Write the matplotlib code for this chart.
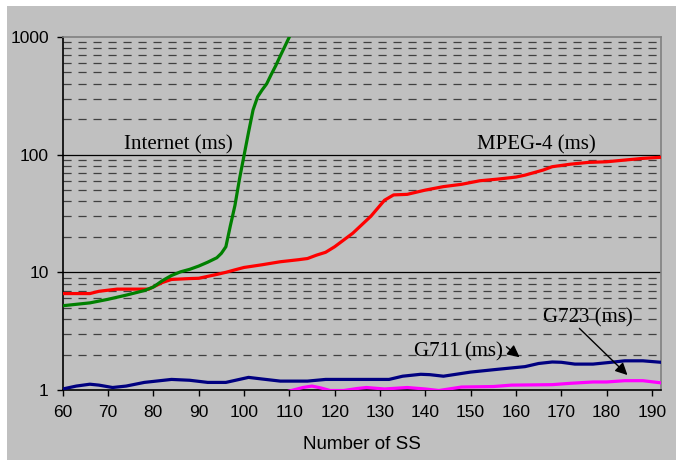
import matplotlib
matplotlib.use("Agg")
import matplotlib.pyplot as plt
from matplotlib.patches import Rectangle
from matplotlib.ticker import FixedLocator, NullFormatter, NullLocator

# Internet (ms)
internet_x = [60, 64, 66, 70, 74, 78, 80, 82, 84, 86, 88, 90, 92, 94, 95, 96,
              97, 98, 99, 100, 101, 102, 103, 104, 105, 106, 107, 108, 109, 110]
internet_y = [5.2, 5.4, 5.5, 5.9, 6.4, 7.0, 7.5, 8.5, 9.4, 10.1, 10.6, 11.3, 12.2,
              13.3, 14.5, 16.5, 25, 37, 62, 98, 155, 240, 310, 355, 400, 480,
              570, 690, 830, 1000]

# MPEG-4 (ms)
mpeg_x = [60, 62, 66, 68, 72, 76, 79, 82, 84, 88, 90, 94, 96, 98, 100, 104, 108,
          112, 114, 116, 118, 120, 124, 128, 131, 133, 136, 140, 144, 148, 152,
          156, 160, 162, 166, 168, 172, 176, 180, 184, 188, 192]
mpeg_y = [6.6, 6.6, 6.6, 6.9, 7.2, 7.2, 7.2, 8.2, 8.7, 8.85, 8.9, 9.6, 10.0, 10.5,
          11.0, 11.6, 12.3, 12.8, 13.1, 14.0, 14.8, 16.5, 21.5, 30, 41, 45.5, 46,
          50, 53.5, 56, 60, 62, 64.5, 67, 74, 79, 83, 86, 87, 90, 93, 95]

# G711 (ms)
g711_x = [60, 63, 66, 68, 71, 74, 78, 84, 88, 92, 96, 101, 104, 108, 114, 118,
          124, 132, 135, 139, 141, 144, 150, 156, 162, 165, 168, 170, 173, 177,
          181, 184, 188, 192]
g711_y = [1.02, 1.08, 1.12, 1.10, 1.05, 1.08, 1.16, 1.23, 1.21, 1.16, 1.16, 1.28,
          1.24, 1.19, 1.19, 1.23, 1.23, 1.23, 1.31, 1.36, 1.35, 1.31, 1.42, 1.50,
          1.58, 1.68, 1.73, 1.72, 1.66, 1.66, 1.72, 1.77, 1.77, 1.72]

# G723 (ms)
g723_x = [110, 113, 115, 117, 119, 122, 125, 127, 131, 136, 140, 143, 148, 155,
          159, 168, 172, 177, 180, 184, 188, 192]
g723_y = [0.98, 1.05, 1.08, 1.04, 0.99, 0.99, 1.03, 1.05, 1.02, 1.05, 1.02, 0.99,
          1.06, 1.07, 1.10, 1.11, 1.14, 1.17, 1.17, 1.20, 1.20, 1.15]

x_ticks = list(range(60, 191, 10))
y_ticks = [1, 10, 100, 1000]
y_minor = [m * d for d in (1, 10, 100) for m in range(2, 10)]

GRAY = "#c0c0c0"
SERIF = ["Liberation Serif", "DejaVu Serif"]
SANS = ["Liberation Sans", "DejaVu Sans"]

fig = plt.figure(figsize=(6.76, 4.66), dpi=100, facecolor="white")
bg = Rectangle((7 / 676, 6 / 466), 669 / 676, 454 / 466, transform=fig.transFigure,
               facecolor=GRAY, edgecolor="none", zorder=-10)
fig.add_artist(bg)
ax = fig.add_axes([62.7 / 676, 1 - 390 / 466, (661 - 62.7) / 676, (390 - 37) / 466])
ax.set_zorder(1)
ax.set_facecolor(GRAY)

ax.set_yscale("log")
ax.set_xlim(60, 192)
ax.set_ylim(1, 1000)

# grid: solid at decades, dashed in between
for v in y_ticks[1:3]:
    ax.axhline(v, color="black", lw=0.9, zorder=1)
for v in y_minor:
    ax.axhline(v, color="#404040", lw=0.9, ls=(0, (6.5, 5.5)), zorder=1)

ax.plot(g723_x, g723_y, color="#ff00ff", lw=2.3, zorder=3)
ax.plot(g711_x, g711_y, color="#000080", lw=2.3, zorder=3)
ax.plot(mpeg_x, mpeg_y, color="#ff0000", lw=2.3, zorder=3)
ax.plot(internet_x, internet_y, color="#008000", lw=2.3, zorder=3)

ax.yaxis.set_major_locator(FixedLocator(y_ticks))
ax.yaxis.set_minor_locator(NullLocator())
ax.yaxis.set_minor_formatter(NullFormatter())
ax.set_yticklabels([str(v) for v in y_ticks], family=SANS, fontsize=12.5)
ax.set_xticks(x_ticks)
ax.set_xticklabels([str(v) for v in x_ticks], family=SANS, fontsize=12.5)
ax.tick_params(axis="y", direction="out", length=4, width=1, pad=6)
ax.tick_params(axis="x", direction="out", length=4, width=1, pad=7)

for s in ("left", "bottom"):
    ax.spines[s].set_color("black")
    ax.spines[s].set_linewidth(1.2)
for s in ("top", "right"):
    ax.spines[s].set_color("#808080")
    ax.spines[s].set_linewidth(1.2)

ax.set_xlabel("Number of SS", family=SANS, fontsize=13.5, labelpad=11)

ax.text(73.5, 120, "Internet (ms)", family=SERIF, fontsize=15, ha="left", va="center", zorder=4)
ax.text(151.5, 120, "MPEG-4 (ms)", family=SERIF, fontsize=15, ha="left", va="center", zorder=4)
ax.text(166.0, 4.07, "G723 (ms)", family=SERIF, fontsize=15, ha="left", va="center", zorder=4)
ax.text(137.5, 2.12, "G711 (ms)", family=SERIF, fontsize=15, ha="left", va="center", zorder=4)

arrow = dict(arrowstyle="-|>", color="black", lw=1, mutation_scale=18, shrinkA=0, shrinkB=0)
ax.annotate("", xy=(160.8, 1.90), xytext=(157.9, 2.33), arrowprops=arrow, zorder=4)
ax.annotate("", xy=(184.6, 1.34), xytext=(174.0, 3.34), arrowprops=arrow, zorder=4)

fig.savefig("out.png", dpi=100, facecolor=fig.get_facecolor())
